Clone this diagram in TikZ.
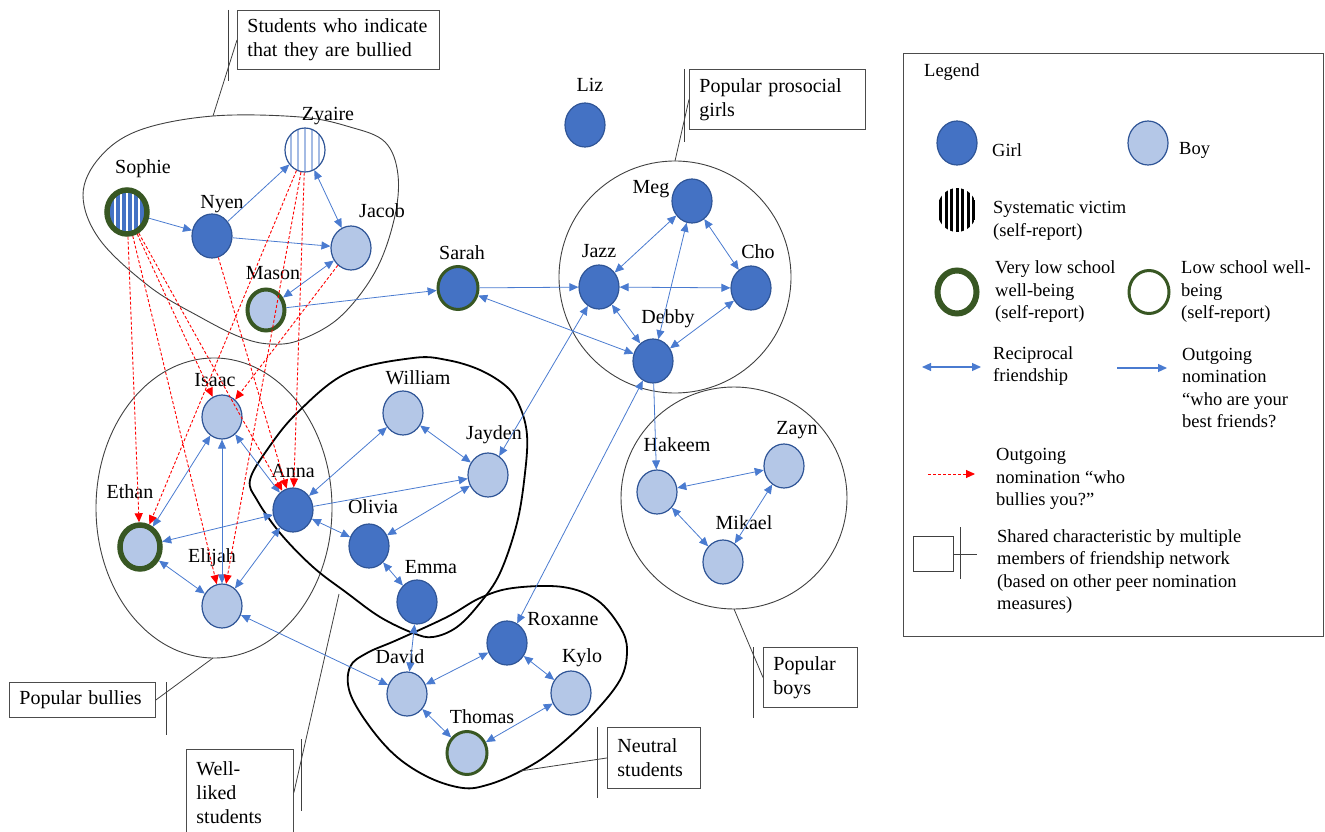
\documentclass[tikz,border=0pt]{standalone}
\usepackage{fontspec}
\setmainfont{Liberation Serif}
\usetikzlibrary{arrows.meta,shapes.geometric}

\definecolor{girlblue}{HTML}{4472C4}
\definecolor{boyblue}{HTML}{B4C7E7}
\definecolor{rimblue}{HTML}{2F5597}
\definecolor{linkblue}{HTML}{4A7BD0}
\definecolor{stripeblue}{HTML}{A4BBE4}
\definecolor{wbgreen}{HTML}{385723}
\definecolor{bullyred}{HTML}{FF0000}

\newcommand{\namefont}{\fontsize{20}{24}\selectfont}
\newcommand{\legfont}{\fontsize{18.5}{22.5}\selectfont}

\tikzset{
  stud/.style={ellipse, draw=rimblue, line width=1.2pt, minimum width=40pt, minimum height=44pt, inner sep=0pt},
  girl/.style={stud, fill=girlblue},
  boy/.style={stud, fill=boyblue},
  vlow/.style={draw=wbgreen, line width=5.5pt, minimum width=40pt, minimum height=44pt},
  low/.style={draw=wbgreen, line width=3pt, minimum width=40pt, minimum height=43pt},
  stripes/.style 2 args={path picture={
      \foreach \s in {#2}
        \draw[#1] ([xshift=\s pt]path picture bounding box.north) -- ([xshift=\s pt]path picture bounding box.south);}},
  lbl/.style={font=\namefont, inner sep=0pt, text height=14pt, text depth=4pt},
  friend/.style={draw=linkblue, line width=0.8pt, -{Triangle[length=9pt, width=8pt]}},
  recip/.style={draw=linkblue, line width=0.8pt, {Triangle[length=9pt, width=8pt]}-{Triangle[length=9pt, width=8pt]}},
  bully/.style={draw=bullyred, line width=0.9pt, dash pattern=on 3pt off 2pt, -{Triangle[length=9pt, width=8pt]}},
  grp/.style={draw=black!75, line width=0.9pt},
  grpbold/.style={draw=black, line width=1.8pt},
  callout/.style={draw=black!70, line width=0.9pt, font=\namefont, align=left, anchor=north west, inner xsep=10pt, inner ysep=0pt},
  callline/.style={draw=black!75, line width=0.8pt},
  legtext/.style={font=\legfont, align=left, anchor=west, inner sep=0pt}
}

\begin{document}
\begin{tikzpicture}[x=1pt, y=-1pt]
\useasboundingbox (0,0) rectangle (1325,832);

% friendship groups
\draw[grp] plot[smooth cycle, tension=0.6] coordinates {(83,195) (100,157) (140,130) (213,116) (300,117) (350,127) (385,142) (398,175) (394,220) (375,272) (340,317) (300,340) (270,344) (240,337) (200,317) (150,287) (100,240)};
\draw[grp] (214,508) ellipse [x radius=118, y radius=150];
\draw[grpbold] plot[smooth cycle, tension=0.6] coordinates {(413,358) (447,360) (480,370) (507,387) (520,407) (527,435) (525,473) (517,523) (500,573) (480,603) (457,627) (433,637) (413,633) (380,617) (347,593) (313,567) (280,533) (257,500) (250,480) (267,450) (297,413) (347,373)};
\draw[grp] (675,277) circle [radius=116];
\draw[grp] (734,498) ellipse [x radius=113, y radius=111];
\draw[grpbold] plot[smooth cycle, tension=0.6] coordinates {(350,667) (367,653) (397,640) (447,617) (480,598) (513,588) (563,587) (597,600) (620,627) (627,650) (620,680) (590,717) (550,753) (517,773) (487,785) (463,788) (430,778) (397,757) (370,727) (350,693)};

% callouts
\node[callout, text width=182pt, minimum height=59pt] (bullied) at (237,10) {Students who indicate\\that they are bullied};
\node[callout, text width=156pt, minimum height=60pt] (prosocial) at (689,69) {Popular prosocial\\girls};
\node[callout, text width=74pt, minimum height=60pt] (popboys) at (763,647) {Popular\\boys};
\node[callout, text width=126pt, minimum height=35pt] (bullies) at (9,682) {Popular bullies};
\node[callout, text width=87pt, minimum height=86pt] (liked) at (186,749) {Well-\\liked\\students};
\node[callout, text width=73pt, minimum height=61pt] (neutral) at (607,727) {Neutral\\students};

\coordinate (bullied-tip) at (213,116);
\coordinate (prosocial-tip) at (675,161);
\coordinate (popboys-tip) at (734,609);
\coordinate (bullies-tip) at (213,658);
\coordinate (liked-tip) at (339,594);
\coordinate (neutral-tip) at (520,771);

\draw[callline] (bullied.west) -- (bullied-tip);
\draw[callline] ([xshift=-9pt]bullied.north west) -- ++(0,71);
\draw[callline] (prosocial.west) -- (prosocial-tip);
\draw[callline] ([xshift=-5pt]prosocial.north west) -- ++(0,73);
\draw[callline] (popboys.west) -- (popboys-tip);
\draw[callline] ([xshift=-10pt]popboys.north west) -- ++(0,71);
\draw[callline] (bullies.east) -- (bullies-tip);
\draw[callline] ([xshift=10pt]bullies.north east) -- ++(0,53);
\draw[callline] (liked.east) -- (liked-tip);
\draw[callline] ([xshift=7pt]liked.north east) ++(0,-10) -- ++(0,72);
\draw[callline] (neutral.west) -- (neutral-tip);
\draw[callline] ([xshift=-10pt]neutral.north west) -- ++(0,71);

% students
\node[girl, vlow, stripes={white, line width=1.5pt}{-12,-6,...,12}] (sophie) at (127,212) {};
\node[lbl] (sophie-l) at (143,168) {Sophie};
\node[girl] (nyen) at (212,236) {};
\node[lbl] (nyen-l) at (222,203) {Nyen};
\node[stud, fill=white, stripes={stripeblue, line width=1.3pt}{-14,-7,...,14}] (zyaire) at (305,150) {};
\node[lbl] (zyaire-l) at (328,116) {Zyaire};
\node[boy] (jacob) at (351,248) {};
\node[lbl] (jacob-l) at (382,212) {Jacob};
\node[boy, vlow, line width=4pt, minimum width=37pt, minimum height=41pt] (mason) at (266,310) {};
\node[lbl] (mason-l) at (273,274) {Mason};
\node[girl, low] (sarah) at (458,288) {};
\node[lbl] (sarah-l) at (462,254) {Sarah};
\node[girl] (liz) at (585,125) {};
\node[lbl] (liz-l) at (590,87) {Liz};
\node[girl] (meg) at (692,201) {};
\node[lbl] (meg-l) at (651,188) {Meg};
\node[girl] (jazz) at (599,287) {};
\node[lbl] (jazz-l) at (599,252) {Jazz};
\node[girl] (cho) at (751,288) {};
\node[lbl] (cho-l) at (758,253) {Cho};
\node[girl] (debby) at (653,361) {};
\node[lbl] (debby-l) at (668,318) {Debby};
\node[boy] (isaac) at (222,417) {};
\node[lbl] (isaac-l) at (215,381) {Isaac};
\node[boy, vlow] (ethan) at (140,547) {};
\node[lbl] (ethan-l) at (130,493) {Ethan};
\node[boy] (elijah) at (222,606) {};
\node[lbl] (elijah-l) at (212,557) {Elijah};
\node[girl] (anna) at (293,510) {};
\node[lbl] (anna-l) at (293,472) {Anna};
\node[boy] (william) at (403,413) {};
\node[lbl] (william-l) at (418,379) {William};
\node[boy] (jayden) at (488,475) {};
\node[lbl] (jayden-l) at (494,434) {Jayden};
\node[girl] (olivia) at (369,546) {};
\node[lbl] (olivia-l) at (373,508) {Olivia};
\node[girl] (emma) at (417,602) {};
\node[lbl] (emma-l) at (431,568) {Emma};
\node[girl] (roxanne) at (507,643) {};
\node[lbl] (roxanne-l) at (563,620) {Roxanne};
\node[boy] (david) at (407,694) {};
\node[lbl] (david-l) at (400,658) {David};
\node[boy] (kylo) at (571,693) {};
\node[lbl] (kylo-l) at (582,657) {Kylo};
\node[boy, low] (thomas) at (467,753) {};
\node[lbl] (thomas-l) at (482,718) {Thomas};
\node[boy] (hakeem) at (657,492) {};
\node[lbl] (hakeem-l) at (677,446) {Hakeem};
\node[boy] (zayn) at (784,466) {};
\node[lbl] (zayn-l) at (797,429) {Zayn};
\node[boy] (mikael) at (723,562) {};
\node[lbl] (mikael-l) at (744,524) {Mikael};

% friendships
\foreach \a/\b in {zyaire/jacob, jacob/mason, meg/jazz, meg/cho, meg/debby, jazz/cho, jazz/debby, cho/debby, sarah/debby, jazz/jayden, debby/roxanne, hakeem/zayn, hakeem/mikael, zayn/mikael, isaac/ethan, isaac/elijah, isaac/anna, ethan/anna, anna/elijah, ethan/elijah, anna/william, anna/olivia, william/jayden, olivia/jayden, olivia/emma, emma/david, elijah/david, david/roxanne, roxanne/kylo, kylo/thomas, david/thomas}
  \draw[recip] (\a) -- (\b);
\foreach \a/\b in {sarah/jazz, mason/sarah, sophie/nyen, nyen/zyaire, nyen/jacob, debby/hakeem, anna/jayden}
  \draw[friend] (\a) -- (\b);

% who bullies you
\foreach \a/\b in {sophie/ethan, sophie/elijah, sophie/isaac, sophie/anna, nyen/anna, zyaire/anna, zyaire/ethan, zyaire/elijah, jacob/isaac}
  \draw[bully] (\a) -- (\b);

% legend
\node[draw=black!70, line width=0.9pt, minimum width=420pt, minimum height=583pt, anchor=north west] (legend) at (903,53) {};
\node[legtext] (legend-t) at (924,72) {Legend};
\node[girl] (leg-girl) at (957,143) {};
\node[legtext] (leg-girl-t) at (992,150) {Girl};
\node[boy] (leg-boy) at (1148,143) {};
\node[legtext] (leg-boy-t) at (1179,150) {Boy};
\node[ellipse, minimum width=40pt, minimum height=44pt, fill=white, stripes={black, line width=3pt}{-16.5,-11,...,16.5}] (leg-victim) at (957,210) {};
\node[legtext] (leg-victim-t) at (993,221) {Systematic victim\\(self-report)};
\node[stud, draw=wbgreen, line width=6pt, minimum width=39pt, minimum height=43pt] (leg-vlow) at (957,292) {};
\node[legtext] (leg-vlow-t) at (995,292) {Very low school\\well-being\\(self-report)};
\node[stud, low] (leg-low) at (1149,292) {};
\node[legtext] (leg-low-t) at (1181,292) {Low school well-\\being\\(self-report)};
\coordinate (leg-rec-a) at (922,367);
\coordinate (leg-rec-b) at (981,367);
\draw[recip, line width=1.2pt] (leg-rec-a) -- (leg-rec-b);
\node[legtext] (leg-rec-t) at (993,366) {Reciprocal\\friendship};
\coordinate (leg-out-a) at (1117,368);
\coordinate (leg-out-b) at (1167,368);
\draw[friend, line width=1.2pt] (leg-out-a) -- (leg-out-b);
\node[legtext] (leg-out-t) at (1182,388) {Outgoing\\nomination\\“who are your\\best friends?};
\coordinate (leg-bully-a) at (928,474);
\coordinate (leg-bully-b) at (975,474);
\draw[bully] (leg-bully-a) -- (leg-bully-b);
\node[legtext] (leg-bully-t) at (996,479) {Outgoing\\nomination “who\\bullies you?”};
\node[draw=black!75, line width=0.9pt, minimum width=40pt, minimum height=35pt, inner sep=0pt] (leg-shared) at (933,554) {};
\draw[callline] ([xshift=7pt]leg-shared.north east) ++(0,-9) -- ++(0,52);
\draw[callline] (leg-shared.east) -- ++(24,0);
\node[legtext] (leg-shared-t) at (997,571.5) {Shared characteristic by multiple\\members of friendship network\\(based on other peer nomination\\measures)};
\end{tikzpicture}
\end{document}
